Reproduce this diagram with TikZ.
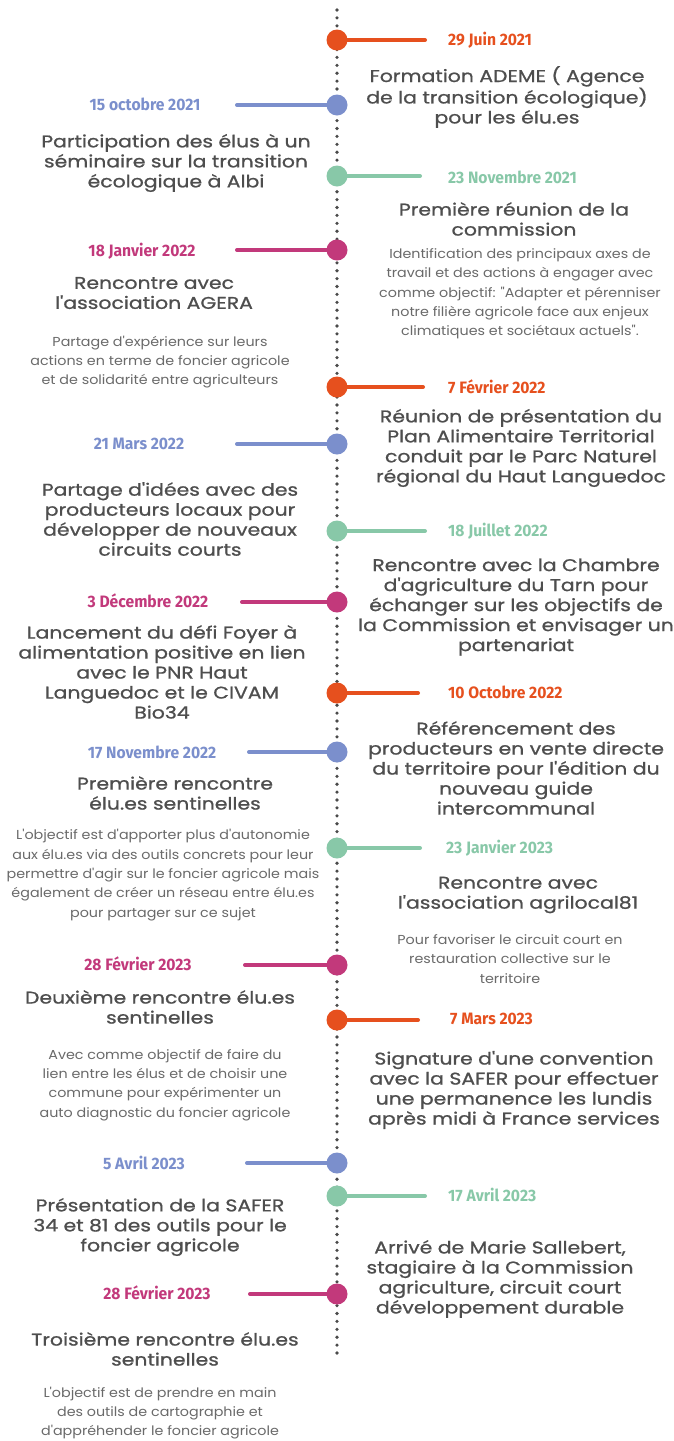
\documentclass[tikz,border=0pt]{standalone}
\usepackage{fontspec}
\setmainfont{Poppins}
\newfontfamily\ttlfont[FakeStretch=1.2, FakeBold=0.9]{Poppins}
\newfontfamily\descfont[FakeStretch=1.1]{Poppins}
\newfontfamily\datefont[FakeStretch=0.95]{Fira Sans}
\usepackage{tikz}
\pgfdeclarelayer{bg}
\pgfsetlayers{bg,main}
\definecolor{orangeC}{HTML}{E6501E}
\definecolor{blueC}{HTML}{7B8FCC}
\definecolor{greenC}{HTML}{88C8A8}
\definecolor{magentaC}{HTML}{C2397B}
\definecolor{ttlgray}{HTML}{4E4E4E}
\definecolor{descgray}{HTML}{6A6A6A}
\definecolor{spinegray}{HTML}{4A4A4A}
\tikzset{
    dot/.style={circle, inner sep=0mm, minimum size=21pt, draw=none},
    stem/.style={line width=4pt, line cap=round},
    spine/.style={line width=3.6pt, line cap=round, dash pattern=on 0pt off 7.9pt, spinegray},
    datel/.style={inner sep=0pt, font=\datefont\bfseries\fontsize{16.5}{18}\selectfont},
    dater/.style={datel, anchor=west},
    ttl/.style={inner sep=0pt, align=center, text=ttlgray, font=\ttlfont\fontsize{17}{20}\selectfont},
    desc/.style={inner sep=0pt, align=center, text=descgray, font=\descfont\fontsize{13}{19.3}\selectfont}
}

\begin{document}
\begin{tikzpicture}[x=1pt, y=-1pt]
    \useasboundingbox (0, 0) rectangle (674, 1441);

    \coordinate (top) at (337, 10);
    \coordinate (bot) at (337, 1354);

    \node (p1) at (337, 40) [dot, fill=orangeC] {};
    \node (p2) at (337, 105) [dot, fill=blueC] {};
    \node (p3) at (337, 176) [dot, fill=greenC] {};
    \node (p4) at (337, 250) [dot, fill=magentaC] {};
    \node (p5) at (337, 387) [dot, fill=orangeC] {};
    \node (p6) at (337, 444) [dot, fill=blueC] {};
    \node (p7) at (337, 531) [dot, fill=greenC] {};
    \node (p8) at (337, 602) [dot, fill=magentaC] {};
    \node (p9) at (337, 693) [dot, fill=orangeC] {};
    \node (p10) at (337, 752) [dot, fill=blueC] {};
    \node (p11) at (337, 848) [dot, fill=greenC] {};
    \node (p12) at (337, 965) [dot, fill=magentaC] {};
    \node (p13) at (337, 1020) [dot, fill=orangeC] {};
    \node (p14) at (337, 1163) [dot, fill=blueC] {};
    \node (p15) at (337, 1196) [dot, fill=greenC] {};
    \node (p16) at (337, 1294) [dot, fill=magentaC] {};

    \coordinate (s1) at (425, 40);
    \coordinate (s2) at (237, 105);
    \coordinate (s3) at (420, 176);
    \coordinate (s4) at (237, 250);
    \coordinate (s5) at (423, 387);
    \coordinate (s6) at (237, 444);
    \coordinate (s7) at (425, 531);
    \coordinate (s8) at (242, 602);
    \coordinate (s9) at (418, 693);
    \coordinate (s10) at (249, 752);
    \coordinate (s11) at (420, 848);
    \coordinate (s12) at (245, 965);
    \coordinate (s13) at (418, 1020);
    \coordinate (s14) at (247, 1163);
    \coordinate (s15) at (425, 1196);
    \coordinate (s16) at (250, 1294);

    \begin{pgfonlayer}{bg}
        \fill [white] (0, 0) rectangle (674, 1441);
        \draw [spine] (top) -- (bot);
        \draw (p1.center) edge [stem, orangeC] (s1);
        \draw (p2.center) edge [stem, blueC] (s2);
        \draw (p3.center) edge [stem, greenC] (s3);
        \draw (p4.center) edge [stem, magentaC] (s4);
        \draw (p5.center) edge [stem, orangeC] (s5);
        \draw (p6.center) edge [stem, blueC] (s6);
        \draw (p7.center) edge [stem, greenC] (s7);
        \draw (p8.center) edge [stem, magentaC] (s8);
        \draw (p9.center) edge [stem, orangeC] (s9);
        \draw (p10.center) edge [stem, blueC] (s10);
        \draw (p11.center) edge [stem, greenC] (s11);
        \draw (p12.center) edge [stem, magentaC] (s12);
        \draw (p13.center) edge [stem, orangeC] (s13);
        \draw (p14.center) edge [stem, blueC] (s14);
        \draw (p15.center) edge [stem, greenC] (s15);
        \draw (p16.center) edge [stem, magentaC] (s16);
    \end{pgfonlayer}

    \node (d1) at (448, 40) [dater, orangeC] {29 Juin 2021};
    \node (d2) at (145, 104) [datel, blueC] {15 octobre 2021};
    \node (d3) at (448, 177) [dater, greenC] {23 Novembre 2021};
    \node (d4) at (142, 251) [datel, magentaC] {18 Janvier 2022};
    \node (d5) at (448, 387) [dater, orangeC] {7 Février 2022};
    \node (d6) at (139, 444) [datel, blueC] {21 Mars 2022};
    \node (d7) at (448, 531) [dater, greenC] {18 Juillet 2022};
    \node (d8) at (148, 601) [datel, magentaC] {3 Décembre 2022};
    \node (d9) at (448, 692) [dater, orangeC] {10 Octobre 2022};
    \node (d10) at (152, 752) [datel, blueC] {17 Novembre 2022};
    \node (d11) at (446, 848) [dater, greenC] {23 Janvier 2023};
    \node (d12) at (138, 964) [datel, magentaC] {28 Février 2023};
    \node (d13) at (450, 1019) [dater, orangeC] {7 Mars 2023};
    \node (d14) at (144, 1163) [datel, blueC] {5 Avril 2023};
    \node (d15) at (448, 1195) [dater, greenC] {17 Avril 2023};
    \node (d16) at (157, 1293) [datel, magentaC] {28 Février 2023};

    \node (t1) at (507, 97) [ttl] {Formation ADEME ( Agence\\de la transition écologique)\\pour les élu.es};
    \node (t2) at (176, 163) [ttl] {Participation des élus à un\\séminaire sur la transition\\écologique à Albi};
    \node (t3) at (514, 219) [ttl] {Première réunion de la\\commission};
    \node (t4) at (154, 293) [ttl] {Rencontre avec\\l'association AGERA};
    \node (t5) at (521, 448) [ttl] {Réunion de présentation du\\Plan Alimentaire Territorial\\conduit par le Parc Naturel\\régional du Haut Languedoc};
    \node (t6) at (170, 519) [ttl] {Partage d'idées avec des\\producteurs locaux pour\\développer de nouveaux\\circuits courts};
    \node (t7) at (516, 607) [ttl] {Rencontre avec la Chambre\\d'agriculture du Tarn pour\\échanger sur les objectifs de\\la Commission et envisager un\\partenariat};
    \node (t8) at (162, 672) [ttl] {Lancement du défi Foyer à\\alimentation positive en lien\\avec le PNR Haut\\Languedoc et le CIVAM\\Bio34};
    \node (t9) at (516, 768) [ttl] {Référencement des\\producteurs en vente directe\\du territoire pour l'édition du\\nouveau guide\\intercommunal};
    \node (t10) at (175, 793) [ttl] {Première rencontre\\élu.es sentinelles};
    \node (t11) at (518, 895) [ttl] {Rencontre avec\\l'association agrilocal81};
    \node (t12) at (160, 1007) [ttl] {Deuxième rencontre élu.es\\sentinelles};
    \node (t13) at (514, 1090) [ttl] {Signature d'une convention\\avec la SAFER pour effectuer\\une permanence les lundis\\après midi à France services};
    \node (t14) at (160, 1227) [ttl] {Présentation de la SAFER\\34 et 81 des outils pour le\\foncier agricole};
    \node (t15) at (500, 1279) [ttl] {Arrivé de Marie Sallebert,\\stagiaire à la Commission\\agriculture, circuit court\\développement durable};
    \node (t16) at (165, 1349) [ttl] {Troisième rencontre élu.es\\sentinelles};

    \node (x3) at (520, 294) [desc] {Identification des principaux axes de\\travail et des actions à engager avec\\comme objectif: "Adapter et pérenniser\\notre filière agricole face aux enjeux\\climatiques et sociétaux actuels".};
    \node (x4) at (160, 362) [desc] {Partage d'expérience sur leurs\\actions en terme de foncier agricole\\et de solidarité entre agriculteurs};
    \node (x10) at (163, 875) [desc] {L'objectif est d'apporter plus d'autonomie\\aux élu.es via des outils concrets pour leur\\permettre d'agir sur le foncier agricole mais\\également de créer un réseau entre élu.es\\pour partager sur ce sujet};
    \node (x11) at (510, 959) [desc] {Pour favoriser le circuit court en\\restauration collective sur le\\territoire};
    \node (x12) at (165, 1085) [desc] {Avec comme objectif de faire du\\lien entre les élus et de choisir une\\commune pour expérimenter un\\auto diagnostic du foncier agricole};
    \node (x16) at (160, 1413) [desc] {L'objectif est de prendre en main\\des outils de cartographie et\\d'appréhender le foncier agricole};
\end{tikzpicture}
\end{document}
